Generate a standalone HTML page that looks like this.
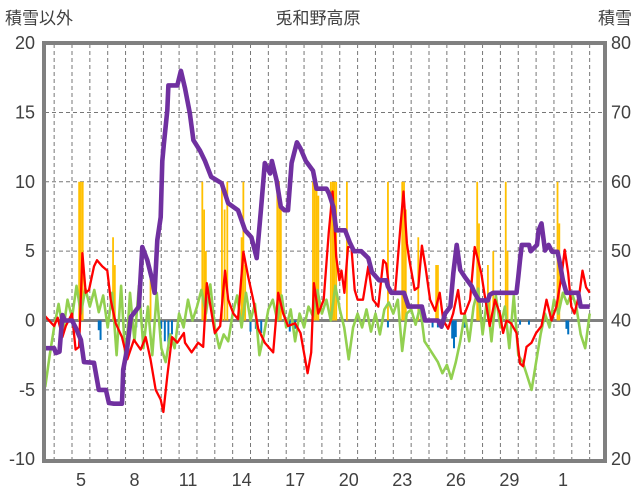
<!DOCTYPE html>
<html><head><meta charset="utf-8">
<style>
body{margin:0;background:#fff;}
svg{display:block;font-family:"Liberation Sans","Noto Sans CJK JP",sans-serif;}
</style></head>
<body>
<svg id="chart" width="636" height="501" xmlns="http://www.w3.org/2000/svg">
<text x="5" y="24" font-size="17" fill="#404040">積雪以外</text>
<text x="318" y="24" font-size="17" fill="#404040" text-anchor="middle">兎和野高原</text>
<text x="632" y="24" font-size="17" fill="#404040" text-anchor="end">積雪</text>
<g id="grid"></g>
<g id="bars"></g>
<g id="lines"></g>
<g id="axes"></g>
</svg>
<script>
const leftTicks=[20,15,10,5,0,-5,-10];
const rightTicks=[80,70,60,50,40,30,20];
const xDays=[5,8,11,14,17,20,23,26,29,32];
const xLabels=["5","8","11","14","17","20","23","26","29","1"];
const yellowT=[5.4,5.5,5.6,7.3,7.4,9.4,12.3,12.4,12.5,13.4,13.55,13.7,14.5,14.6,14.7,16.5,16.6,16.7,18.5,18.6,18.7,18.8,19.5,19.6,19.7,19.8,20.4,22.7,23.5,23.6,23.7,24.4,25.4,25.5,27.7,27.8,28.3,28.4,28.6,29.3,29.4,32.2,32.3];
const yellowV=[10,10,10,6,4,3,10,8,5,10,8,10,6,10,4,10,10,8,10,10,10,9,10,10,10,10,10,10,10,10,8,6,4,4,10,7,4,2,5,10,5,10,7];
const blueT=[6.5,6.6,8.6,10.0,10.2,10.4,10.6,15.0,15.3,15.6,17.2,17.5,22.7,25.2,25.5,26.3,26.4,26.5,27.0,30.1,30.6,32.7,32.8];
const blueV=[-0.7,-1.4,-0.5,-0.6,-1.5,-2.0,-1.0,-0.8,-0.6,-0.9,-0.8,-0.6,-0.5,-0.5,-0.5,-1.3,-2.0,-1.2,-0.5,-0.3,-0.3,-0.6,-1.0];
const snowT=[3.5,4.0,4.1,4.3,4.46,4.6,5.0,5.2,5.5,5.67,6.23,6.5,6.9,7.07,7.35,7.8,7.87,8.08,8.3,8.75,8.94,9.22,9.5,9.63,9.78,9.97,10.06,10.15,10.34,10.4,10.9,11.1,11.33,11.6,11.8,12.17,12.45,12.8,13.38,13.75,14.3,14.7,15.05,15.35,15.6,15.8,16.1,16.2,16.46,16.7,16.9,17.1,17.3,17.6,17.8,18.1,18.5,18.7,19.26,19.4,19.64,19.8,20.3,20.55,20.8,21.2,21.6,21.8,22.2,22.6,22.7,22.9,23.6,23.85,24.6,24.78,25.5,25.7,25.9,26.2,26.36,26.55,26.75,27.0,27.4,27.55,27.8,28.3,28.4,28.6,29.9,30.0,30.1,30.2,30.6,30.7,31.05,31.14,31.3,31.5,31.7,31.9,32.2,32.3,32.5,32.7,33.36,33.5,34.0];
const snowV=[36,36,35.3,35.5,40.8,40,40,39,37.2,34,33.9,30,30,28.1,28,28,32.9,35.8,40.5,42,50.6,48.7,45.8,44,51.6,54.9,63,65.5,70.3,73.9,73.9,76,73.5,69.9,66,64.5,63,60.7,59.8,56.9,55.9,53,52,49,56.4,62.7,61.2,63,60.2,56.4,55.9,55.9,62.7,65.7,64.8,63,61.6,59,59,58.3,56.4,53,53,51.3,50,50,49,47,45.8,45.8,44.9,44,44,42,42,40,40,39.1,41,42,46.8,50.9,47.3,46.3,44.9,44,42.9,42.9,43.7,44,44,46.3,48.7,50.9,50.9,50,50.9,53,54,50.1,50.9,49.9,49.9,48.7,45.8,44,44,42,42];
const redT=[3.5,4.0,4.2,4.46,4.65,5.0,5.2,5.4,5.58,5.77,5.95,6.23,6.4,6.7,6.98,7.17,7.45,7.8,8.1,8.47,8.85,9.13,9.4,9.69,9.97,10.12,10.34,10.6,10.9,11.27,11.33,11.7,12.07,12.35,12.55,12.7,13.0,13.3,13.57,13.75,14.04,14.3,14.6,14.87,15.15,15.43,15.8,16.27,16.55,16.83,17.1,17.5,17.8,18.2,18.4,18.55,18.8,19.1,19.38,19.6,19.8,19.98,20.1,20.26,20.46,20.65,20.84,21.0,21.3,21.6,21.86,22.16,22.44,22.6,22.8,23.1,23.4,23.57,23.76,23.9,24.2,24.4,24.6,24.8,25.06,25.34,25.6,25.8,26.07,26.35,26.63,26.8,27.0,27.3,27.56,27.75,27.93,28.1,28.4,28.7,28.97,29.15,29.34,29.6,29.9,30.1,30.27,30.46,30.74,31.0,31.3,31.58,31.86,32.14,32.42,32.6,32.8,32.97,33.15,33.43,33.6,33.8,34.0];
const redV=[0.3,-0.4,0.2,-1.2,-0.4,0.5,-2.1,-1.9,4.85,2,2.2,3.9,4.35,3.9,3.6,1.5,-0.2,-1.2,-2.8,-1.4,-2.1,-1.2,-2.8,-5,-5.7,-6.6,-4,-1.2,-1.6,-0.9,-1.6,-2.3,-1.6,-1.9,2.7,1.5,-0.9,-0.4,3.6,1.5,0.5,0.1,4.95,3.15,1.5,-0.6,-1.6,-2.3,2,0.5,-0.4,-0.2,-0.9,-3.8,-2.3,2.7,0.5,1.5,6.3,9.3,4.6,2.9,3.6,2,5.3,5.3,2.2,1.5,1.5,3.9,1.5,1,4.35,4.1,2,2,6.75,9.3,5.55,4.35,2.2,2.4,5.4,3.9,1.5,0.7,2,0,-0.6,0.5,2.2,0.5,0.5,1.5,5.3,4.35,3.4,2,-0.4,1.5,0.5,-0.9,0,-0.2,-0.9,-3.1,-3.3,-1.9,-1.6,-0.9,-0.4,1.5,0,1,3.15,5.1,3.4,1,0.5,2,3.6,2.4,2];
const greenStart=3.5;
const greenStep=0.25;
const greenV=[-4.8,-2.5,-0.5,1.2,-0.8,1.5,0.2,2.5,0.5,2.3,1.0,2.2,0.6,1.8,-0.5,2.0,-2.5,2.5,-3.0,2.0,-1.5,2.5,-2.0,1.0,-2.5,2.0,-2.0,-3.0,-1.0,-2.0,0.5,-0.5,1.5,0.0,1.0,2.2,0.5,2.6,-0.5,-2.0,-1.0,-1.5,0.5,1.8,-0.5,2.0,0.0,1.2,-2.5,-1.0,0.8,1.5,0.0,1.8,-0.5,0.8,-1.5,0.5,-0.5,1.0,0.3,2.2,0.5,1.5,0.0,2.5,0.8,-0.5,-2.8,-0.5,0.5,-0.5,0.8,-0.8,0.5,-1.0,0.8,1.3,0.5,1.5,-2.2,0.5,0.8,-0.3,1.0,-1.5,-2.0,-2.5,-3.0,-3.8,-3.2,-4.2,-3.0,-1.5,0.5,-1.5,1.0,2.3,-1.0,1.5,-1.5,1.8,-0.5,1.0,-2.0,1.8,-2.5,-3.0,-4.0,-5.0,-3.0,-1.0,0.5,-0.5,1.5,0.5,2.0,1.2,2.0,1.0,-1.0,-2.0,0.5];

const X0=45,X1=604,Y0=44,Y1=460;
function xS(t){return 72+(t-5)*17.85;}
function yL(v){return 320.5-v*13.87;}
function yR(s){return yL((s-40)/2);}
const NS="http://www.w3.org/2000/svg";
function mk(tag,attrs,parent){const e=document.createElementNS(NS,tag);for(const k in attrs)e.setAttribute(k,attrs[k]);parent.appendChild(e);return e;}
const grid=document.getElementById('grid'),bars=document.getElementById('bars'),lines=document.getElementById('lines'),axes=document.getElementById('axes');
mk('rect',{x:X0,y:Y0,width:X1-X0,height:Y1-Y0,fill:'#fff'},grid);
for(let d=4;d<=34;d++){const x=xS(d);if(x<=X0||x>=X1)continue;
 const l=mk('line',{x1:x,x2:x,y1:Y0,y2:Y1,stroke:'#777','stroke-width':1,'stroke-dasharray':'4,3'},grid);
 
 }
leftTicks.forEach((v,i)=>{const y=yL(v);
 if(v!==0&&v!==20&&v!==-10){const l=mk('line',{x1:X0,x2:X1,y1:y,y2:y,stroke:'#777','stroke-width':1,'stroke-dasharray':'4,3'},grid);
 
 }
 const t=mk('text',{x:35,y:y+6,'font-size':18,fill:'#404040','text-anchor':'end'},axes);t.textContent=v;
 
 
 const r=mk('text',{x:631,y:y+6,'font-size':18,fill:'#404040','text-anchor':'end'},axes);r.textContent=rightTicks[i];
 
 });
xDays.forEach((d,i)=>{const t=mk('text',{x:xS(d)+9,y:486,'font-size':18,fill:'#404040','text-anchor':'middle'},axes);t.textContent=xLabels[i];
 
 });
yellowT.forEach((t,i)=>{const y=yL(yellowV[i]);const b=mk('rect',{x:xS(t)-0.9,y:y,width:1.8,height:yL(0)-y,fill:'#FFC000'},bars);
 
 });
blueT.forEach((t,i)=>{const b=mk('rect',{x:xS(t)-1,y:yL(0),width:2,height:yL(blueV[i])-yL(0),fill:'#0070C0'},bars);
 
 });
const zl=mk('line',{x1:X0,x2:X1,y1:yL(0),y2:yL(0),stroke:'#808080','stroke-width':3},grid);


let gp=greenV.map((v,i)=>xS(greenStart+i*greenStep).toFixed(1)+','+yL(v).toFixed(1)).join(' ');
const gl=mk('polyline',{points:gp,fill:'none',stroke:'#92D050','stroke-width':2.6,'stroke-linejoin':'round'},lines);


let rp=redT.map((t,i)=>xS(t).toFixed(1)+','+yL(redV[i]).toFixed(1)).join(' ');
const rl=mk('polyline',{points:rp,fill:'none',stroke:'#FF0000','stroke-width':2.3,'stroke-linejoin':'round'},lines);


let sp=snowT.map((t,i)=>xS(t).toFixed(1)+','+yR(snowV[i]).toFixed(1)).join(' ');
const sl=mk('polyline',{points:sp,fill:'none',stroke:'#7030A0','stroke-width':4.6,'stroke-linejoin':'round'},lines);


const fr=mk('rect',{x:X0-1,y:Y0-1,width:X1-X0+2,height:Y1-Y0+2,fill:'none',stroke:'#808080','stroke-width':4},axes);


</script>
</body></html>
